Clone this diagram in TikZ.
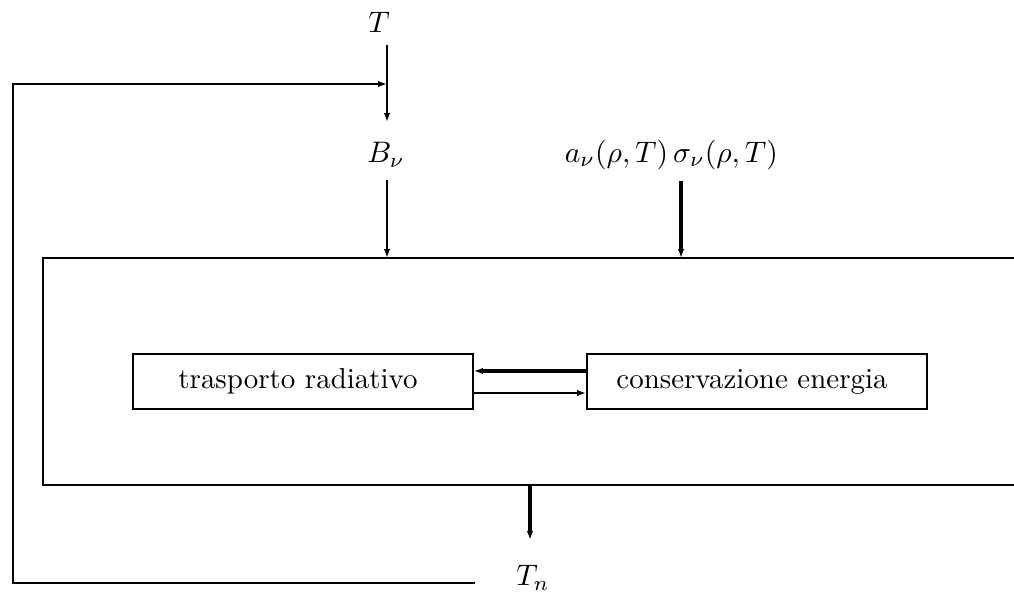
\documentclass[tikz,border=0pt]{standalone}
\usetikzlibrary{arrows.meta}
\begin{document}
\begin{tikzpicture}[x=0.4044pt,y=-0.4044pt,
  thin line/.style={line width=0.8pt},
  thick line/.style={line width=1.3pt},
  arr/.style={-{Latex[length=3.6pt,width=2.6pt]}},
  box/.style={draw,line width=0.8pt,minimum width=340*0.4044pt,minimum height=55*0.4044pt,inner sep=0pt},
  btext/.style={scale=1.17,inner sep=0pt},
  lbl/.style={inner sep=0pt,scale=1.2}]
\useasboundingbox (0,0) rectangle (1014,599);
% labels
\node[lbl] (T) at (379,22) {$T$};
\node[lbl] (B) at (386,155) {$B_\nu$};
\node[lbl] (a) at (616.5,155) {$a_\nu(\rho,T)$};
\node[lbl] (s) at (725.5,155) {$\sigma_\nu(\rho,T)$};
\node[lbl] (Tn) at (533,578) {$T_n$};
% boxes
\node[box] (tr) at (303,381.5) {};
\node[box] (ce) at (757,381.5) {};
\node[btext] (trt) at (298,381.5) {trasporto radiativo};
\node[btext] (cet) at (752,381.5) {conservazione energia};
% big box (open to the right)
\coordinate (bbtl) at (43,258);
\coordinate (bbbl) at (43,485);
\draw[thin line] (1014,258) -- (bbtl) -- (bbbl) -- (1014,485);
% coordinates
\coordinate (Ttop) at (387,45);
\coordinate (Tbot) at (387,122);
\coordinate (Btop) at (387,180);
\coordinate (Bbot) at (387,258);
\coordinate (stop) at (681,181);
\coordinate (sbot) at (681,258);
\coordinate (Tnt) at (530,485);
\coordinate (Tnb) at (530,540);
\coordinate (fb1) at (475,583);
\coordinate (fb2) at (13,583);
\coordinate (fb3) at (13,84);
\coordinate (fb4) at (387,84);
% arrows
\draw[thin line,arr] (Ttop) -- (Tbot);
\draw[thin line,arr] (Btop) -- (Bbot);
\draw[thick line,arr] (stop) -- (sbot);
\draw[thick line,arr] (Tnt) -- (Tnb);
\draw[thin line,arr] (fb1) -- (fb2) -- (fb3) -- (fb4);
\draw[thick line,arr] (ce.west |- 0,371) -- (tr.east |- 0,371);
\draw[thin line,arr] (tr.east |- 0,393) -- (ce.west |- 0,393);
\end{tikzpicture}
\end{document}
